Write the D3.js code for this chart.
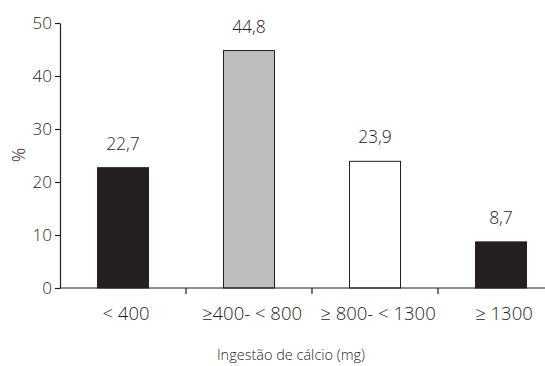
<!DOCTYPE html>
<html><head><meta charset="utf-8">
<script src="https://cdn.jsdelivr.net/npm/d3@7"></script>
<style>body{margin:0;background:#fff}text{font-family:"Open Sans",sans-serif;font-weight:300;fill:#231f20}</style>
</head><body><svg id="c" width="545" height="366"></svg>
<script>
const categories = ["< 400", "\u2265400- < 800", "\u2265 800- < 1300", "\u2265 1300"];
const values = [22.7, 44.8, 23.9, 8.7];
const valueLabels = ["22,7", "44,8", "23,9", "8,7"];
const fills = ["#231f20", "#bcbec0", "#ffffff", "#231f20"];
const yTicks = [0, 10, 20, 30, 40, 50];

const svg = d3.select("#c");
const x = d3.scaleBand().domain(categories).range([60, 564]).padding(0);
const y = d3.scaleLinear().domain([0, 50]).range([288, 23]);
const barW = 51;

svg.selectAll("rect.bar").data(values).join("rect")
  .attr("x", (d,i) => x(categories[i]) + (x.bandwidth() - barW) / 2)
  .attr("y", d => y(d))
  .attr("width", barW)
  .attr("height", d => y(0) - y(d))
  .attr("fill", (d,i) => fills[i])
  .attr("stroke", "#231f20").attr("stroke-width", 1);

svg.selectAll("text.val").data(values).join("text")
  .attr("x", (d,i) => x(categories[i]) + x.bandwidth() / 2)
  .attr("y", d => y(d) - 18)
  .attr("text-anchor", "middle").attr("font-size", 17.5)
  .text((d,i) => valueLabels[i]);

const yAxis = svg.append("g").attr("transform", "translate(60,0)")
  .call(d3.axisLeft(y).tickValues(yTicks).tickSize(5).tickPadding(3).tickSizeOuter(0));
yAxis.select(".domain").attr("stroke", "#231f20").attr("stroke-width", 1.2);
yAxis.selectAll(".tick line").attr("stroke", "#231f20").attr("stroke-width", 1.2);
yAxis.selectAll(".tick text").attr("font-size", 17).attr("font-family", "Open Sans").attr("fill", "#231f20");

svg.append("line").attr("x1", 60).attr("x2", 545).attr("y1", y(0)).attr("y2", y(0))
  .attr("stroke", "#231f20").attr("stroke-width", 1.2);
svg.selectAll("line.xt").data(categories.slice(1)).join("line")
  .attr("x1", d => x(d)).attr("x2", d => x(d))
  .attr("y1", y(0)).attr("y2", y(0) + 6)
  .attr("stroke", "#231f20").attr("stroke-width", 1.2);
svg.selectAll("text.xl").data(categories).join("text")
  .attr("x", d => x(d) + x.bandwidth() / 2 + 3).attr("y", 320)
  .attr("text-anchor", "middle").attr("font-size", 18.5)
  .text(d => d);

svg.append("text").attr("x", 291).attr("y", 360).attr("text-anchor", "middle")
  .attr("font-size", 14.5).text("Ingestão de cálcio (mg)");
svg.append("text").attr("transform", "translate(25,155) rotate(-90)")
  .attr("text-anchor", "middle").attr("font-size", 18).text("%");
</script></body></html>
